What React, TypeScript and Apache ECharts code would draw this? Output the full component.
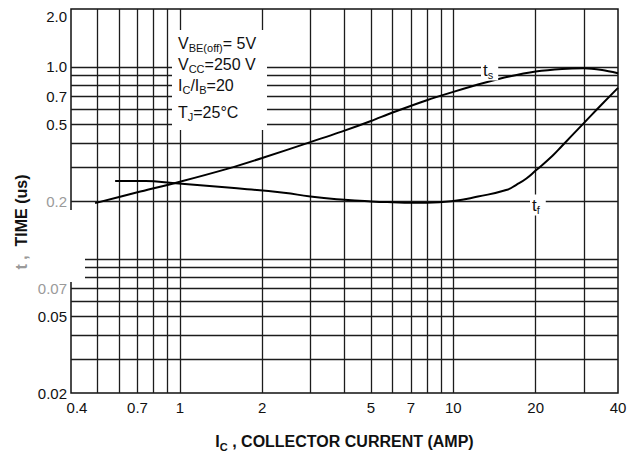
import React, { useEffect, useRef } from "react";
import * as echarts from "echarts";

// Tick labels
const xTickValues = [0.4, 0.7, 1, 2, 5, 7, 10, 20, 40];
const xTickLabels = ["0.4", "0.7", "1", "2", "5", "7", "10", "20", "40"];
const yTickValues = [0.02, 0.05, 0.07, 0.2, 0.5, 0.7, 1, 2];
const yTickLabels = ["0.02", "0.05", "0.07", "0.2", "0.5", "0.7", "1.0", "2.0"];

// Grid lines (log paper)
const xGridValues = [0.5, 0.6, 0.7, 0.8, 0.9, 1, 2, 3, 4, 5, 6, 7, 8, 9, 10, 20, 30];
const yGridValues = [0.03, 0.04, 0.05, 0.06, 0.07, 0.08, 0.09, 0.1, 0.2, 0.3, 0.4, 0.5, 0.6, 0.7, 0.8, 0.9, 1];

// Storage time ts (us) vs collector current (A)
const tsCurrent = [0.49, 0.7, 1, 1.5, 2, 3, 4, 5, 6, 8, 10, 13, 16, 20, 25, 30, 35, 40];
const tsTime = [0.195, 0.222, 0.252, 0.295, 0.335, 0.405, 0.465, 0.522, 0.578, 0.67, 0.74, 0.825, 0.89, 0.945, 0.975, 0.982, 0.962, 0.925];

// Fall time tf (us) vs collector current (A)
const tfCurrent = [0.58, 0.75, 0.94, 1.5, 2.4, 3, 4, 5, 6, 7, 8, 10, 12.3, 15.6, 17, 18.5, 20, 23, 25, 30, 35, 40];
const tfTime = [0.254, 0.254, 0.248, 0.235, 0.221, 0.211, 0.203, 0.199, 0.197, 0.196, 0.196, 0.2, 0.211, 0.228, 0.243, 0.262, 0.288, 0.343, 0.388, 0.509, 0.64, 0.777];

const FONT = '"Liberation Sans", Arial, sans-serif';

function nearestLabel(values: number[], labels: string[], v: number): string {
  let best = 0;
  let bd = Infinity;
  values.forEach((t, i) => {
    const d = Math.abs(Math.log(t) - Math.log(v));
    if (d < bd) {
      bd = d;
      best = i;
    }
  });
  return labels[best];
}

export default function App() {
  const ref = useRef<HTMLDivElement>(null);

  useEffect(() => {
    document.body.style.margin = "0";
    if (!ref.current) return;
    const chart = echarts.init(ref.current, undefined, { renderer: "svg" });

    const sub = { fontSize: 11, fontFamily: FONT, fill: "#111", padding: [10, 0, 0, 0] };

    const annot = (text: string, y: number) => ({
      type: "text",
      x: 178,
      y,
      z: 60,
      style: {
        text,
        fontSize: 16,
        fontFamily: FONT,
        fill: "#111",
        verticalAlign: "middle",
        rich: { sub },
      },
    });

    chart.setOption({
      animation: false,
      backgroundColor: "#ffffff",
      grid: {
        left: 71,
        right: 22,
        top: 9,
        bottom: 64,
        show: true,
        borderColor: "#111",
        borderWidth: 1.5,
        backgroundColor: "transparent",
      },
      xAxis: {
        type: "log",
        logBase: 10,
        min: 0.4,
        max: 40,
        axisLine: { show: false },
        axisTick: { show: false },
        splitLine: { show: false },
        axisLabel: {
          customValues: xTickValues,
          formatter: (v: number) => {
            const l = nearestLabel(xTickValues, xTickLabels, v);
            return l === "0.4" ? "{first|0.4}" : l;
          },
          color: "#111",
          fontSize: 15,
          fontFamily: FONT,
          margin: 7,
          hideOverlap: false,
          showMinLabel: true,
          showMaxLabel: true,
          rich: {
            first: { fontSize: 15, fontFamily: FONT, color: "#111", padding: [0, 0, 0, 12] },
          },
        },
        name: "I{sub|C} , COLLECTOR CURRENT (AMP)",
        nameLocation: "middle",
        nameGap: 38,
        nameTextStyle: {
          color: "#111",
          fontSize: 16,
          fontWeight: "bold",
          fontFamily: FONT,
          rich: {
            sub: { fontSize: 11, fontWeight: "bold", fontFamily: FONT, color: "#111", padding: [10, 0, 0, 0] },
          },
        },
      },
      yAxis: {
        type: "log",
        logBase: 10,
        min: 0.02,
        max: 2,
        axisLine: { show: false },
        axisTick: { show: false },
        splitLine: { show: false },
        axisLabel: {
          customValues: yTickValues,
          formatter: (v: number) => {
            const l = nearestLabel(yTickValues, yTickLabels, v);
            if (l === "2.0") return "{top|2.0}";
            if (l === "0.2" || l === "0.07") return "{faint|" + l + "}";
            return l;
          },
          color: "#111",
          fontSize: 15,
          fontFamily: FONT,
          margin: 4,
          hideOverlap: false,
          showMinLabel: true,
          showMaxLabel: true,
          rich: {
            top: { fontSize: 15, fontFamily: FONT, color: "#111", padding: [14, 0, 0, 0] },
            faint: { fontSize: 15, fontFamily: FONT, color: "#9a9a9a" },
          },
        },
      },
      series: [
        {
          name: "grid",
          type: "line",
          data: [],
          silent: true,
          z: 1,
          markLine: {
            silent: true,
            symbol: ["none", "none"],
            label: { show: false },
            emphasis: { disabled: true },
            lineStyle: { color: "#1c1c1c", width: 1.3, type: "solid" },
            data: [
              ...xGridValues.map((v) => ({ xAxis: v })),
              ...yGridValues.map((v) => ({ yAxis: v })),
            ],
          },
        },
        {
          name: "ts",
          type: "line",
          z: 10,
          smooth: 0.3,
          showSymbol: false,
          lineStyle: { color: "#000", width: 2 },
          data: tsCurrent.map((c, i) => [c, tsTime[i]]),
        },
        {
          name: "tf",
          type: "line",
          z: 10,
          smooth: 0.5,
          showSymbol: false,
          lineStyle: { color: "#000", width: 2 },
          data: tfCurrent.map((c, i) => [c, tfTime[i]]),
        },
      ],
      graphic: [
        // blank label box behind the test conditions
        { type: "rect", z: 50, shape: { x: 172, y: 30, width: 95, height: 100 }, style: { fill: "#fff" } },
        // faded patch of the scanned axis
        { type: "rect", z: 50, shape: { x: 68, y: 210, width: 17, height: 72 }, style: { fill: "#fff" } },
        annot("V{sub|BE(off)}= 5V", 43),
        annot("V{sub|CC}=250 V", 64),
        annot("I{sub|C}/I{sub|B}=20", 85),
        annot("T{sub|J}=25°C", 112),
        {
          type: "text",
          x: 481,
          y: 70,
          z: 60,
          style: {
            text: "t{sub|s}",
            fontSize: 17,
            fontFamily: FONT,
            fill: "#111",
            verticalAlign: "middle",
            backgroundColor: "#fff",
            padding: [0, 5, 0, 2],
            rich: { sub },
          },
        },
        {
          type: "text",
          x: 530,
          y: 205,
          z: 60,
          style: {
            text: "t{sub|f}",
            fontSize: 17,
            fontFamily: FONT,
            fill: "#111",
            verticalAlign: "middle",
            backgroundColor: "#fff",
            padding: [0, 6, 0, 2],
            rich: { sub },
          },
        },
        {
          type: "text",
          x: 21,
          y: 222,
          rotation: Math.PI / 2,
          z: 60,
          style: {
            text: "{faint|t ,}  TIME (us)",
            fontSize: 16,
            fontWeight: "bold",
            fontFamily: FONT,
            fill: "#111",
            align: "center",
            verticalAlign: "middle",
            rich: { faint: { fontSize: 16, fontWeight: "bold", fontFamily: FONT, fill: "#9a9a9a" } },
          },
        },
      ],
    });

    return () => chart.dispose();
  }, []);

  return <div ref={ref} style={{ width: 640, height: 457 }} />;
}
